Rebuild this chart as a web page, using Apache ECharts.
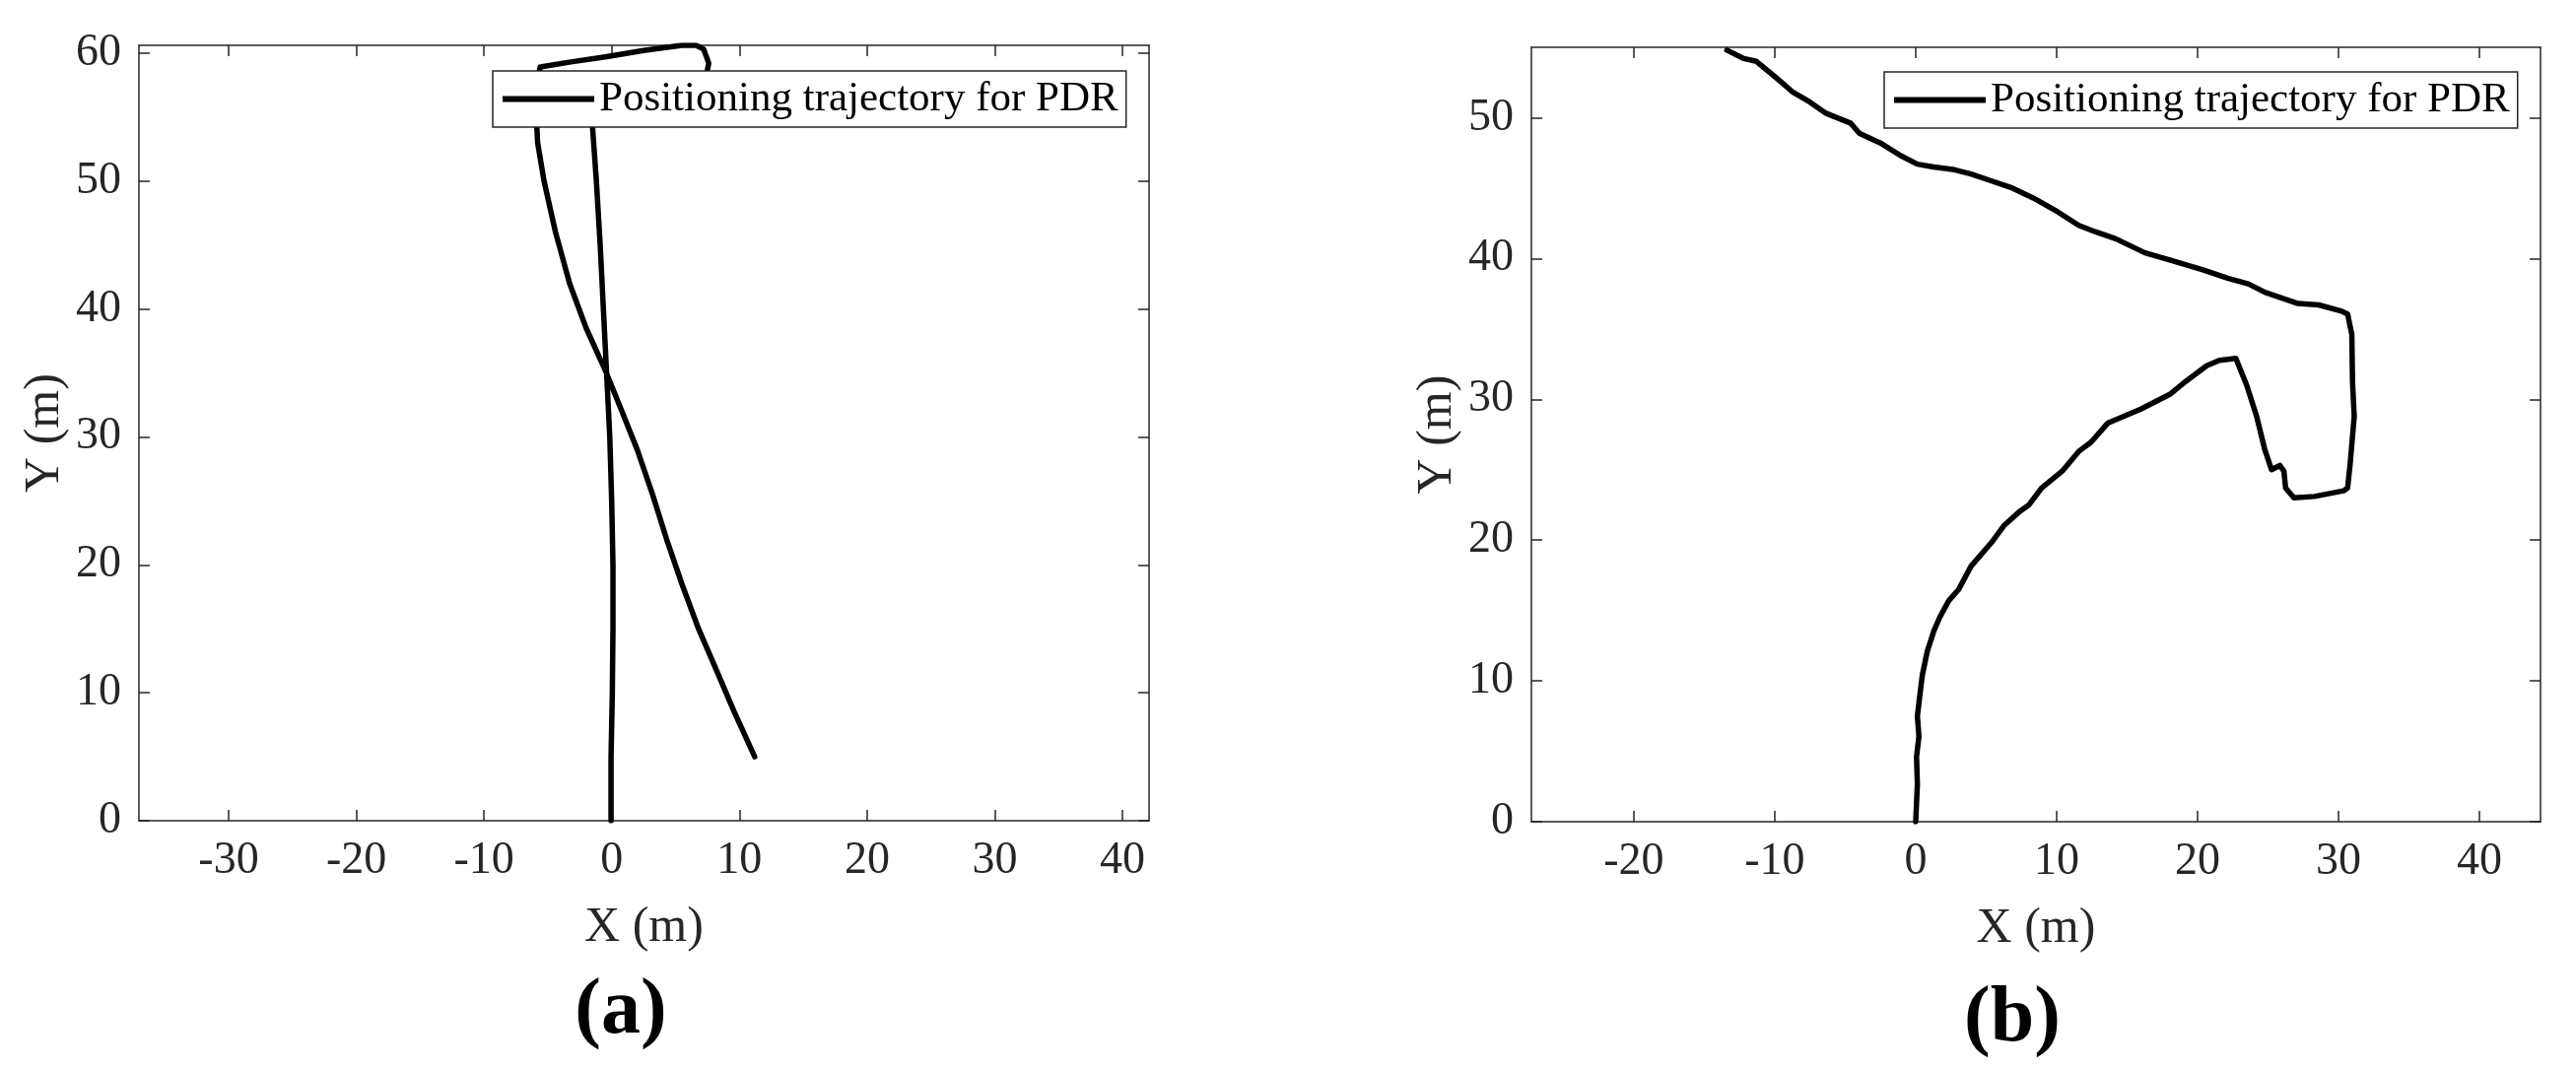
<!DOCTYPE html>
<html>
<head>
<meta charset="utf-8">
<script src="https://cdn.jsdelivr.net/npm/echarts@6/dist/echarts.min.js"></script>
<style>
html,body{margin:0;padding:0;background:#fff;}
#c{width:2614px;height:1085px;}
</style>
</head>
<body>
<div id="c"></div>
<script>
// ---------- data ----------
const SERIES_NAME = 'Positioning trajectory for PDR';

// (a) trajectory [x, y] in metres
const trajA = [
  [-0.05,0],[-0.05,5],[0.05,10],[0.1,15],[0.1,20],[0.0,25],[-0.15,30],[-0.4,35],
  [-0.65,40],[-0.9,45],[-1.2,50],[-1.5,54.2],[-1.7,56.5],[-1.0,57.5],[3.0,58.0],
  [7.4,58.2],[7.6,59.2],[7.2,60.3],[6.6,60.6],[5.5,60.6],[2.5,60.2],[-0.5,59.7],
  [-3.2,59.3],[-5.6,58.9],[-6.0,57.0],[-5.9,55.0],[-5.8,53.0],[-5.3,50.0],
  [-4.4,46.0],[-3.3,42.0],[-2.0,38.5],[-0.5,35.2],[0.8,32.0],[2.0,29.0],
  [3.2,25.5],[4.3,22.0],[5.5,18.5],[6.8,15.0],[8.1,12.0],[9.6,8.5],[11.2,5.0]
];

// (b) trajectory [x, y] in metres
const trajB = [
  [0,0],[0.12,2.66],[0.06,4.6],[0.23,6.05],[0.12,7.5],[0.29,8.95],[0.47,10.4],
  [0.82,12.1],[1.29,13.55],[1.7,14.5],[2.35,15.7],[3.05,16.5],[3.93,18.15],
  [5.4,19.85],[6.28,21.05],[7.34,22.0],[8.04,22.5],[8.93,23.7],[10.4,24.9],
  [11.57,26.3],[12.45,26.96],[13.62,28.3],[15.97,29.3],[18.03,30.35],[19.2,31.3],
  [20.67,32.4],[21.55,32.77],[22.72,32.9],[23.49,31.0],[24.19,28.8],[24.78,26.4],
  [25.25,25.0],[25.84,25.3],[26.13,24.9],[26.25,23.7],[26.84,23.0],[28.3,23.1],
  [30.36,23.5],[30.65,23.7],[30.83,25.4],[31.12,28.8],[31.0,31.2],[30.95,34.6],
  [30.65,36.06],[30.24,36.25],[28.6,36.7],[27.13,36.8],[25.95,37.2],[24.78,37.6],
  [23.6,38.2],[22.14,38.6],[20.38,39.2],[19.5,39.45],[18.03,39.9],[16.27,40.4],
  [14.2,41.4],[12.74,41.9],[11.57,42.35],[10.1,43.3],[8.34,44.3],[6.87,45.0],
  [5.4,45.5],[3.93,46.0],[2.76,46.3],[1.29,46.5],[0.12,46.7],[-1.06,47.3],
  [-2.5,48.2],[-4.0,48.9],[-4.6,49.6],[-6.34,50.3],[-7.5,51.1],[-8.7,51.8],
  [-9.86,52.8],[-11.3,54.0],[-12.2,54.2],[-13.4,54.8]
];

// tick labels
const ticksAx = [-30,-20,-10,0,10,20,30,40];
const ticksAy = [0,10,20,30,40,50,60];
const ticksBx = [-20,-10,0,10,20,30,40];
const ticksBy = [0,10,20,30,40,50];

// axis ranges
const rangeAx = [-37.02, 42.08];
const rangeAy = [0, 60.6];
const rangeBx = [-27.27, 44.34];
const rangeBy = [0, 55];

// ---------- styling ----------
const FONT = 'Liberation Serif';
const AX = '#262626';

function mkAxis(gridIndex, range, ticks, position, labels, name, nameGap) {
  return {
    type: 'value',
    gridIndex: gridIndex,
    position: position,
    min: range[0],
    max: range[1],
    name: name || '',
    nameLocation: 'middle',
    nameGap: nameGap || 0,
    nameTextStyle: { fontFamily: FONT, fontSize: 50, color: AX },
    axisLine: { show: true, onZero: false, lineStyle: { color: AX, width: 1.5 } },
    axisTick: { show: true, inside: true, length: 11, customValues: ticks,
                lineStyle: { color: AX, width: 1.5 } },
    axisLabel: { show: labels, customValues: ticks, margin: 18,
                 fontFamily: FONT, fontSize: 46, color: AX },
    splitLine: { show: false }
  };
}

const chart = echarts.init(document.getElementById('c'), null, { renderer: 'canvas' });

const legendCommon = {
  data: [{ name: SERIES_NAME, icon: 'rect' }],
  orient: 'horizontal',
  backgroundColor: '#fff',
  borderColor: AX,
  borderWidth: 1.5,
  borderRadius: 0,
  itemWidth: 93,
  itemHeight: 6,
  itemStyle: { color: '#000', borderWidth: 0 },
  selectedMode: false,
  padding: [7, 8, 7, 10],
  textStyle: { fontFamily: FONT, fontSize: 43, color: '#000' }
};

chart.setOption({
  animation: false,
  backgroundColor: '#fff',
  grid: [
    { left: 141, top: 46, width: 1025, height: 787 },
    { left: 1554, top: 48, width: 1024, height: 786 }
  ],
  xAxis: [
    mkAxis(0, rangeAx, ticksAx, 'bottom', true, 'X (m)', 84),
    mkAxis(0, rangeAx, ticksAx, 'top', false),
    mkAxis(1, rangeBx, ticksBx, 'bottom', true, 'X (m)', 84),
    mkAxis(1, rangeBx, ticksBx, 'top', false)
  ],
  yAxis: [
    mkAxis(0, rangeAy, ticksAy, 'left', true, 'Y (m)', 70),
    mkAxis(0, rangeAy, ticksAy, 'right', false),
    mkAxis(1, rangeBy, ticksBy, 'left', true, 'Y (m)', 70),
    mkAxis(1, rangeBy, ticksBy, 'right', false)
  ],
  legend: [
    Object.assign({}, legendCommon, { left: 500, top: 72 }),
    Object.assign({}, legendCommon, { left: 1912, top: 73 })
  ],
  series: [
    {
      name: SERIES_NAME, type: 'line', xAxisIndex: 0, yAxisIndex: 0,
      data: trajA, symbol: 'none', showSymbol: false, smooth: false,
      lineStyle: { color: '#000', width: 5.5, join: 'round', cap: 'round' },
      itemStyle: { color: '#000' }, z: 2
    },
    {
      name: SERIES_NAME, type: 'line', xAxisIndex: 2, yAxisIndex: 2,
      data: trajB, symbol: 'none', showSymbol: false, smooth: false,
      lineStyle: { color: '#000', width: 5.5, join: 'round', cap: 'round' },
      itemStyle: { color: '#000' }, z: 2
    }
  ],
  graphic: [
    { type: 'text', x: 630, y: 1027, style: { text: '(a)', fontFamily: FONT, fontWeight: 'bold',
      fontSize: 80, fill: '#000', align: 'center', verticalAlign: 'middle' } },
    { type: 'text', x: 2042, y: 1035, style: { text: '(b)', fontFamily: FONT, fontWeight: 'bold',
      fontSize: 80, fill: '#000', align: 'center', verticalAlign: 'middle' } }
  ]
});
</script>
</body>
</html>
